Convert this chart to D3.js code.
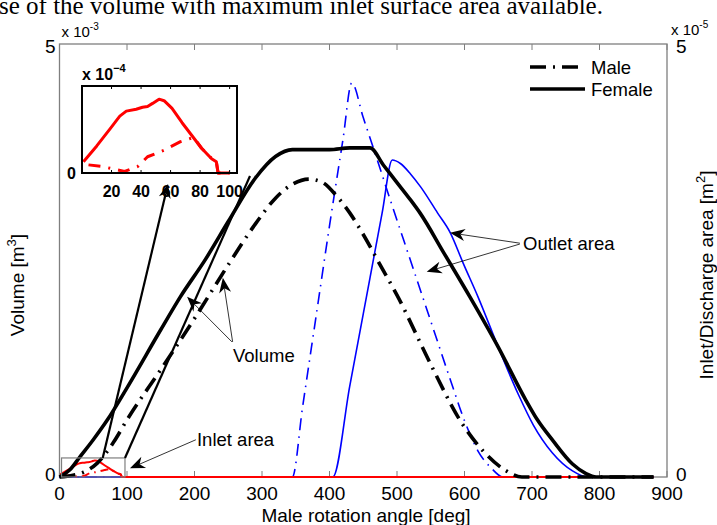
<!DOCTYPE html>
<html>
<head>
<meta charset="utf-8">
<script src="https://cdn.jsdelivr.net/npm/d3@7"></script>
<style>
  body { margin: 0; background: #fff; overflow: hidden; }
  text { font-family: "Liberation Sans", Arial, sans-serif; fill: #000; }
</style>
</head>
<body>
<svg id="chart" width="717" height="525"></svg>
<script>
// ---- data (angles in deg, volume in 1e-3 m^3, areas in 1e-5 m^2) ----
const xTicks = [0, 100, 200, 300, 400, 500, 600, 700, 800, 900];
const insetTicks = [20, 40, 60, 80, 100];

const maleVolAngle = [0, 20, 40, 56, 80, 100, 150, 200, 250, 290, 320, 345, 370, 390, 410, 430, 450, 475, 500, 550, 593, 630, 660, 685, 880];
const maleVol      = [0, 0.02, 0.07, 0.16, 0.4, 0.66, 1.24, 1.83, 2.45, 2.92, 3.22, 3.38, 3.44, 3.4, 3.25, 3.05, 2.8, 2.45, 2.1, 1.3, 0.66, 0.28, 0.08, 0, 0];

const femaleVolAngle = [0, 15, 30, 50, 71, 100, 150, 179, 216, 250, 290, 320, 345, 400, 430, 460, 480, 500, 520, 534, 570, 608, 650, 690, 708, 731, 760, 780, 795, 880];
const femaleVol      = [0, 0.08, 0.23, 0.43, 0.66, 1.03, 1.7, 2.08, 2.51, 2.95, 3.45, 3.7, 3.78, 3.78, 3.8, 3.8, 3.6, 3.4, 3.2, 3.05, 2.58, 2.08, 1.5, 0.9, 0.66, 0.42, 0.15, 0.04, 0, 0];

const maleOutAngle = [0, 345, 360, 380, 400, 420, 433, 450, 470, 490, 520, 550, 580, 600, 620, 640, 657, 880];
const maleOut      = [0, 0, 0.8, 1.85, 2.9, 3.9, 4.55, 4.15, 3.68, 3.2, 2.5, 1.8, 1.1, 0.65, 0.3, 0.1, 0, 0];

const femaleOutAngle = [0, 405, 430, 460, 478, 493, 505, 520, 535, 560, 579, 598, 620, 650, 680, 702, 730, 760, 782, 880];
const femaleOut      = [0, 0, 1.05, 2.3, 3.05, 3.66, 3.62, 3.5, 3.35, 3.05, 2.82, 2.47, 2.08, 1.5, 0.95, 0.6, 0.28, 0.07, 0, 0];

const femaleInAngle = [1, 10, 19, 25.6, 30, 36.7, 41, 44.4, 47.8, 52.2, 55.6, 61, 67.8, 74.4, 81, 87.8, 91, 92.2, 100, 880];
const femaleIn      = [0.029, 0.07, 0.114, 0.147, 0.16, 0.165, 0.17, 0.172, 0.18, 0.191, 0.187, 0.167, 0.13, 0.097, 0.064, 0.037, 0.029, 0, 0, 0];

const maleInAngle = [4.4, 13.3, 28.9, 37.8, 44.4, 55.6, 66.7, 75.6, 81, 88, 91, 92.2, 100, 880];
const maleIn      = [0.021, 0.017, 0.004, 0.017, 0.042, 0.059, 0.081, 0.092, 0.064, 0.037, 0.029, 0, 0, 0];

// ---- layout ----
const svg = d3.select("#chart");
const plot = {left: 59.5, right: 667, top: 44, bottom: 477};
const axisGray = "#7f7f7f";

const x = d3.scaleLinear().domain([0, 900]).range([plot.left, plot.right]);
const yL = d3.scaleLinear().domain([0, 5]).range([plot.bottom, plot.top]);
const yR = d3.scaleLinear().domain([0, 5]).range([plot.bottom, plot.top]);

// title fragment cut at top
svg.append("text")
  .attr("x", -1).attr("y", 14)
  .style("font-family", "'Liberation Serif', 'Times New Roman', serif")
  .style("font-size", "25px")
  .text("se of the volume with maximum inlet surface area available.");

// axes box
svg.append("rect")
  .attr("x", plot.left).attr("y", plot.top)
  .attr("width", plot.right - plot.left).attr("height", plot.bottom - plot.top)
  .attr("fill", "none").attr("stroke", axisGray).attr("stroke-width", 1.3);

// x ticks (bottom and top, inward)
xTicks.forEach(t => {
  svg.append("line").attr("x1", x(t)).attr("x2", x(t))
    .attr("y1", plot.bottom).attr("y2", plot.bottom - 6)
    .attr("stroke", axisGray).attr("stroke-width", 1);
  svg.append("line").attr("x1", x(t)).attr("x2", x(t))
    .attr("y1", plot.top).attr("y2", plot.top + 6)
    .attr("stroke", axisGray).attr("stroke-width", 1);
  svg.append("text").attr("x", x(t)).attr("y", plot.bottom + 23)
    .attr("text-anchor", "middle").style("font-size", "19px").text(t);
});

// y tick labels
[[0, plot.bottom + 4], [5, plot.top + 9]].forEach(([v, py]) => {
  svg.append("text").attr("x", plot.left - 4).attr("y", py)
    .attr("text-anchor", "end").style("font-size", "19px").text(v);
  svg.append("text").attr("x", plot.right + 9).attr("y", py)
    .style("font-size", "19px").text(v);
});

// exponent labels
function expLabel(px, py, exp) {
  const t = svg.append("text").attr("x", px).attr("y", py).style("font-size", "15px");
  t.append("tspan").text("x 10");
  t.append("tspan").attr("dy", -7).style("font-size", "10px").text(exp);
}
expLabel(plot.left + 2, 37, "-3");
expLabel(plot.right + 4, 35, "-5");

// axis titles
svg.append("text").attr("x", 366).attr("y", 522)
  .attr("text-anchor", "middle").style("font-size", "19px").text("Male rotation angle [deg]");

const yl = svg.append("text")
  .attr("transform", "translate(24,285) rotate(-90)")
  .attr("text-anchor", "middle").style("font-size", "19px");
yl.append("tspan").text("Volume [m");
yl.append("tspan").attr("dy", -8).style("font-size", "13px").text("3");
yl.append("tspan").attr("dy", 8).text("]");

const yr = svg.append("text")
  .attr("transform", "translate(713,275) rotate(-90)")
  .attr("text-anchor", "middle").style("font-size", "19px");
yr.append("tspan").text("Inlet/Discharge area [m");
yr.append("tspan").attr("dy", -8).style("font-size", "13px").text("2");
yr.append("tspan").attr("dy", 8).text("]");

// ---- series ----
function series(angles, vals, ys, color, width, dash) {
  const data = angles.map((a, i) => [a, vals[i]]);
  const line = d3.line().x(d => x(d[0])).y(d => ys(d[1])).curve(d3.curveMonotoneX);
  svg.append("path").datum(data)
    .attr("d", line)
    .attr("fill", "none")
    .attr("stroke", color)
    .attr("stroke-width", width)
    .attr("stroke-dasharray", dash || null)
    .attr("stroke-linejoin", "round");
}

series(maleOutAngle, maleOut, yR, "#0000ff", 1.6, "12,6,1.5,6");
series(femaleOutAngle, femaleOut, yR, "#0000ff", 1.6);
series(maleInAngle, maleIn, yR, "#ff0000", 2, "8,5,1.5,5");
series(femaleInAngle, femaleIn, yR, "#ff0000", 2);
series(maleVolAngle, maleVol, yL, "#000", 3.6, "16,7,2,7");
series(femaleVolAngle, femaleVol, yL, "#000", 3.6);

// zoom rectangle around inlet region
svg.append("rect")
  .attr("x", x(3)).attr("y", yR(0.22))
  .attr("width", x(97) - x(3)).attr("height", yR(0) - yR(0.22))
  .attr("fill", "none").attr("stroke", axisGray).attr("stroke-width", 1.2);

// ---- arrows ----
function arrow(x1, y1, x2, y2, w, len, half) {
  const ang = Math.atan2(y2 - y1, x2 - x1);
  const bx = x2 - len * Math.cos(ang), by = y2 - len * Math.sin(ang);
  const nx = x2 - len * 0.7 * Math.cos(ang), ny = y2 - len * 0.7 * Math.sin(ang);
  svg.append("line").attr("x1", x1).attr("y1", y1).attr("x2", nx).attr("y2", ny)
    .attr("stroke", "#000").attr("stroke-width", w);
  const px = -Math.sin(ang) * half, py = Math.cos(ang) * half;
  svg.append("path")
    .attr("d", `M${x2},${y2} L${bx + px},${by + py} L${nx},${ny} L${bx - px},${by - py} Z`)
    .attr("fill", "#000");
}

// Volume
arrow(x(255.5), yL(1.56), x(189), yL(2.08), 0.8, 15, 6);
arrow(x(256.5), yL(1.56), x(242), yL(2.30), 0.8, 15, 6);
svg.append("text").attr("x", x(257)).attr("y", yL(1.33)).style("font-size", "18.5px").text("Volume");

// Outlet area
arrow(x(682), yL(2.70), x(578.5), yL(2.82), 0.8, 15, 6);
arrow(x(682), yL(2.69), x(544), yL(2.37), 0.8, 15, 6);
svg.append("text").attr("x", x(686.7)).attr("y", yL(2.62)).style("font-size", "18.5px").text("Outlet area");

// Inlet area
arrow(x(202), yL(0.43), x(104.4), yL(0.10), 0.8, 15, 6);
svg.append("text").attr("x", x(203.7)).attr("y", yL(0.36)).style("font-size", "18.5px").text("Inlet area");

// lines from zoom rectangle to inset
arrow(x(64), yR(0.22), 168, 184, 2.2, 14, 6);
svg.append("line").attr("x1", x(97)).attr("y1", yR(0.22)).attr("x2", 250).attr("y2", 176)
  .attr("stroke", "#000").attr("stroke-width", 2.2);

// ---- legend ----
const legend = [["Male", "16,7,2,7"], ["Female", null]];
legend.forEach(([name, dash], i) => {
  const ly = 67 + i * 22;
  svg.append("line").attr("x1", 530).attr("x2", 585).attr("y1", ly).attr("y2", ly)
    .attr("stroke", "#000").attr("stroke-width", 3.6).attr("stroke-dasharray", dash);
  svg.append("text").attr("x", 591).attr("y", ly + 7).style("font-size", "18.5px").text(name);
});

// ---- inset ----
const inset = {left: 82, right: 237, top: 86, bottom: 173};
const ix = d3.scaleLinear().domain([0, 105]).range([inset.left, inset.right]);
const iy = d3.scaleLinear().domain([0, 0.225]).range([inset.bottom, inset.top]);
const ig = svg.append("g");
ig.append("rect").attr("x", inset.left).attr("y", inset.top)
  .attr("width", inset.right - inset.left).attr("height", inset.bottom - inset.top)
  .attr("fill", "#fff");
function insetSeries(angles, vals, dash) {
  const data = angles.map((a, i) => [a, vals[i]]).filter(d => d[0] <= 100);
  ig.append("path").datum(data)
    .attr("d", d3.line().x(d => ix(d[0])).y(d => iy(d[1])))
    .attr("fill", "none").attr("stroke", "#ff0000").attr("stroke-width", 3)
    .attr("stroke-linejoin", "round")
    .attr("stroke-dasharray", dash || null);
}
insetSeries(maleInAngle, maleIn, "12,8,2,8");
insetSeries(femaleInAngle, femaleIn);
ig.append("rect").attr("x", inset.left).attr("y", inset.top)
  .attr("width", inset.right - inset.left).attr("height", inset.bottom - inset.top)
  .attr("fill", "none").attr("stroke", "#000").attr("stroke-width", 2);
insetTicks.forEach(t => {
  ig.append("line").attr("x1", ix(t)).attr("x2", ix(t))
    .attr("y1", inset.top).attr("y2", inset.top + 3).attr("stroke", "#000");
  ig.append("line").attr("x1", ix(t)).attr("x2", ix(t))
    .attr("y1", inset.bottom).attr("y2", inset.bottom - 3).attr("stroke", "#000");
  ig.append("text").attr("x", ix(t)).attr("y", inset.bottom + 24)
    .attr("text-anchor", "middle").style("font-size", "16px").style("font-weight", "bold").text(t);
});
ig.append("text").attr("x", inset.left - 6).attr("y", inset.bottom + 6)
  .attr("text-anchor", "end").style("font-size", "16px").style("font-weight", "bold").text("0");
const ie = ig.append("text").attr("x", inset.left).attr("y", 80)
  .style("font-size", "16px").style("font-weight", "bold");
ie.append("tspan").text("x 10");
ie.append("tspan").attr("dy", -8).style("font-size", "11px").text("\u22124");
</script>
</body>
</html>
